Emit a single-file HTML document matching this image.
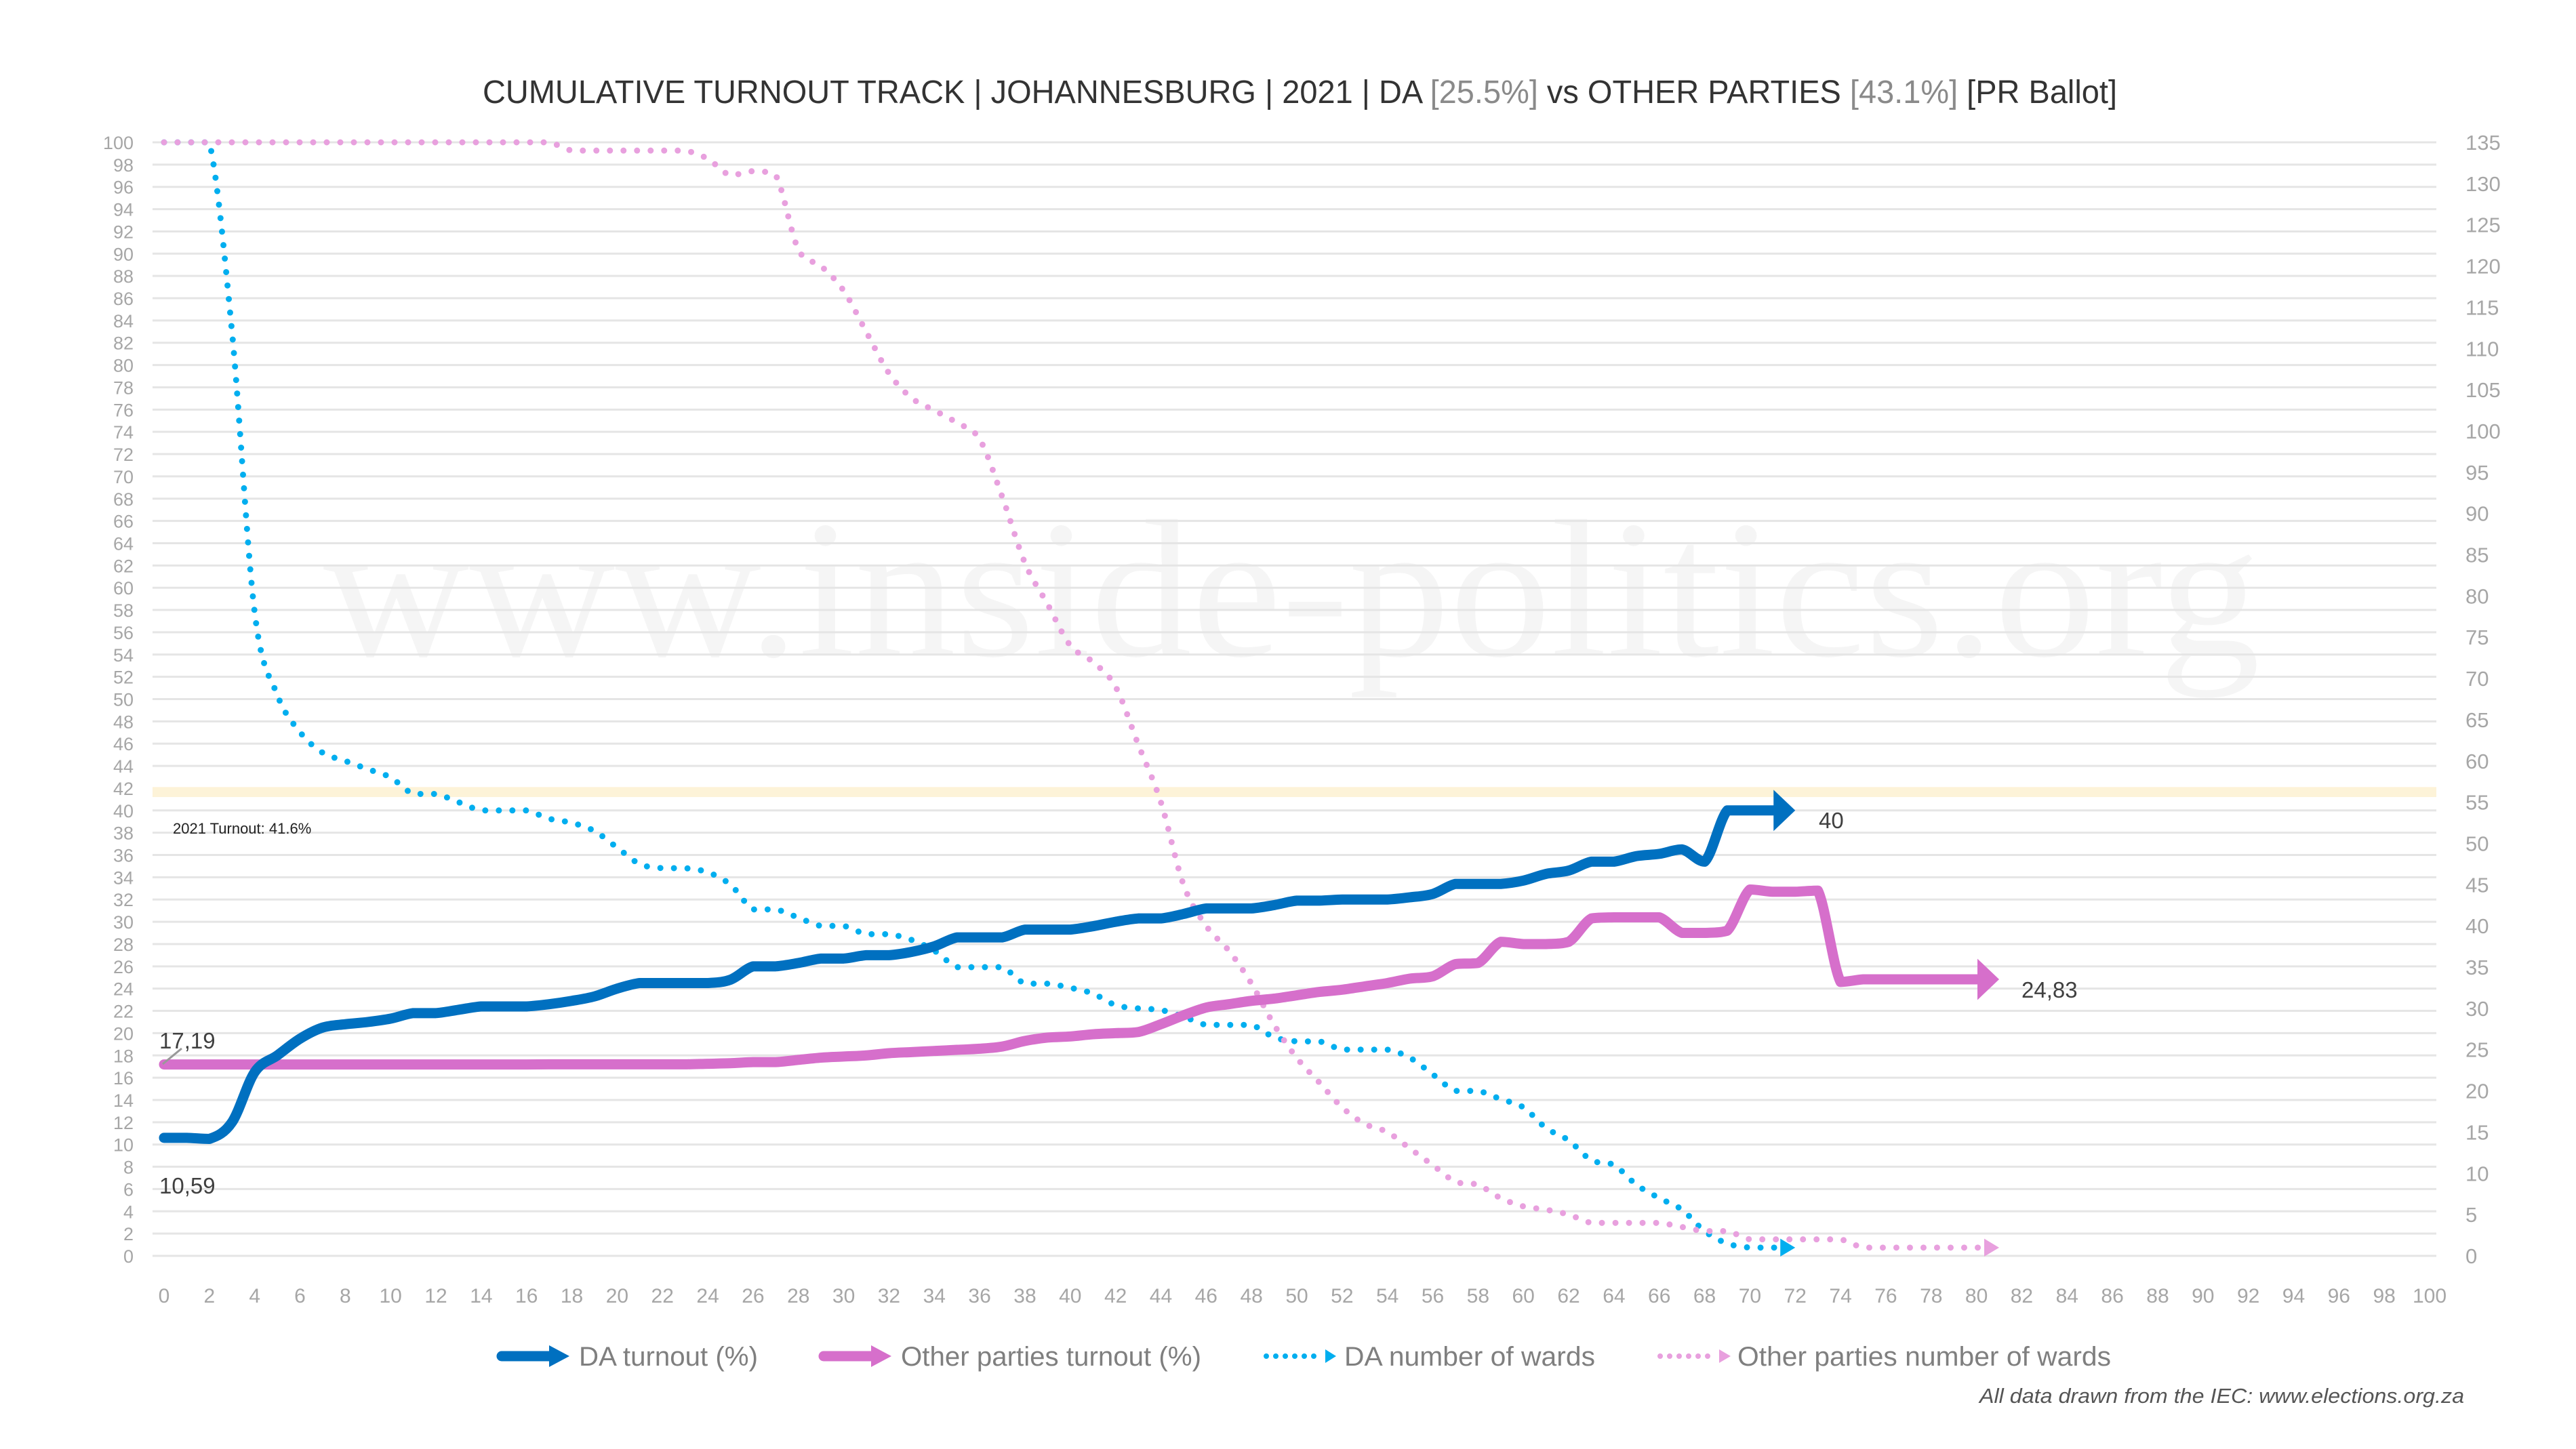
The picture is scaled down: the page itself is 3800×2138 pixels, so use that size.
<!DOCTYPE html>
<html><head><meta charset="utf-8">
<style>
html,body{margin:0;padding:0;background:#fff;}
svg{display:block;font-family:"Liberation Sans",sans-serif;}
</style></head>
<body>
<svg id="chart" width="3800" height="2138" viewBox="0 0 3800 2138" xmlns="http://www.w3.org/2000/svg">
<rect width="3800" height="2138" fill="#fff"/>
<text x="477" y="967" font-family="Liberation Serif,serif" font-size="290" fill="#f5f5f5" textLength="2857" lengthAdjust="spacingAndGlyphs">www.inside-politics.org</text>
<g id="grid"></g>
<rect id="band" fill="#fdf3d8"/>
<text x="255" y="1230" font-size="22" fill="#222">2021 Turnout: 41.6%</text>
<g id="yl"></g>
<g id="yr"></g>
<g id="xl"></g>
<g id="series"></g>
<text x="712" y="152" font-size="48" fill="#333" textLength="2411" lengthAdjust="spacingAndGlyphs">CUMULATIVE TURNOUT TRACK | JOHANNESBURG | 2021 | DA <tspan fill="#8a8a8a">[25.5%]</tspan> vs OTHER PARTIES <tspan fill="#8a8a8a">[43.1%]</tspan> [PR Ballot]</text>
<text x="235" y="1547" font-size="33" fill="#404040">17,19</text>
<line x1="240" y1="1570" x2="268" y2="1547" stroke="#999" stroke-width="3"/>
<text x="235" y="1761" font-size="33" fill="#404040">10,59</text>
<text x="2683" y="1222" font-size="33" fill="#404040">40</text>
<text x="2982" y="1472" font-size="33" fill="#404040">24,83</text>
<g>
 <g>
  <line x1="740" y1="2001" x2="812" y2="2001" stroke="#0070c0" stroke-width="15" stroke-linecap="round"/>
  <polygon points="810,1985 840,2001 810,2017" fill="#0070c0"/>
  <text x="854" y="2015" font-size="40" fill="#7f7f7f" textLength="264" lengthAdjust="spacingAndGlyphs">DA turnout (%)</text>
 </g>
 <g>
  <line x1="1215" y1="2001" x2="1287" y2="2001" stroke="#d66fcb" stroke-width="15" stroke-linecap="round"/>
  <polygon points="1285,1985 1315,2001 1285,2017" fill="#d66fcb"/>
  <text x="1329" y="2015" font-size="40" fill="#7f7f7f" textLength="443" lengthAdjust="spacingAndGlyphs">Other parties turnout (%)</text>
 </g>
 <g>
  <line x1="1868" y1="2001" x2="1952" y2="2001" stroke="#00aeef" stroke-width="8" stroke-linecap="round" stroke-dasharray="0 14"/>
  <polygon points="1955,1991 1971,2001 1955,2011" fill="#00aeef"/>
  <text x="1983" y="2015" font-size="40" fill="#7f7f7f" textLength="370" lengthAdjust="spacingAndGlyphs">DA number of wards</text>
 </g>
 <g>
  <line x1="2449" y1="2001" x2="2533" y2="2001" stroke="#e8a0de" stroke-width="8" stroke-linecap="round" stroke-dasharray="0 14"/>
  <polygon points="2536,1991 2553,2001 2536,2011" fill="#e8a0de"/>
  <text x="2563" y="2015" font-size="40" fill="#7f7f7f" textLength="551" lengthAdjust="spacingAndGlyphs">Other parties number of wards</text>
 </g>
</g>
<text x="3635" y="2070" text-anchor="end" font-size="31" font-style="italic" fill="#555" textLength="715" lengthAdjust="spacingAndGlyphs">All data drawn from the IEC: www.elections.org.za</text>
</svg>
<script>
const daTurnout = [10.6,10.6,10.5,12,16.5,18,19.5,20.5,20.8,21,21.3,21.8,21.8,22.1,22.4,22.4,22.4,22.6,22.9,23.3,24,24.5,24.5,24.5,24.5,24.8,26,26,26.3,26.7,26.7,27,27,27.3,27.8,28.6,28.6,28.6,29.3,29.3,29.3,29.6,30,30.3,30.3,30.7,31.2,31.2,31.2,31.5,31.9,31.9,32,32,32,32.2,32.5,33.4,33.4,33.4,33.7,34.3,34.6,35.4,35.4,35.9,36.1,36.5,35.4,40,40,40,40];
const otherTurnout = [17.19,17.19,17.19,17.19,17.19,17.19,17.19,17.19,17.19,17.19,17.19,17.19,17.19,17.19,17.19,17.19,17.19,17.2,17.2,17.2,17.2,17.2,17.2,17.2,17.25,17.3,17.4,17.4,17.6,17.8,17.9,18,18.2,18.3,18.4,18.5,18.6,18.8,19.3,19.6,19.7,19.9,20,20.1,20.8,21.6,22.3,22.6,22.9,23.1,23.4,23.7,23.9,24.2,24.5,24.9,25.1,26.2,26.3,28.2,28,28,28.2,30.3,30.4,30.4,30.4,29,29,29.2,32.9,32.7,32.7,32.8,24.6,24.83,24.83,24.83,24.83,24.83,24.83,24.83];
const daWards = [135,135,135,112,78,68,63.5,61,60,59,58,56,56,55,54,54,54,53,52.5,51.5,49.5,47.5,47,47,46.5,45,42,42,41,40,40,39,39,38.3,37,35,35,35,33,33,32.5,31.8,30.4,30,29.8,29,28,28,28,26.5,26,26,25,25,25,24,22,20,20,19,18,15.5,14,11.6,11,8.6,7,5.6,3,1.5,1,1,1];
const otherWards = [135,135,135,135,135,135,135,135,135,135,135,135,135,135,135,135,135,135,134,134,134,134,134,134,133,131,131.5,131,122,120,117,112,107,104,102.5,101,99,92,84,79,74,72,69,62,55,45,40,37,33,28,24,21,18,16,15,13,11,9,8.6,7,6,5.6,5,4,4,4,4,3.5,3,3,2,2,2,2,2,1,1,1,1,1,1,1];
const leftTicks = Array.from({length:51},(_,i)=>i*2);
const rightTicks = [0,5,10,15,20,25,30,35,40,45,50,55,60,65,70,75,80,85,90,95,100,105,110,115,120,125,130,135];
const xTicks = Array.from({length:51},(_,i)=>i*2);
const turnoutBand = [41.2, 42.1];

const X0=242,X1=3584,Y0=1853,Y100=210;
const sx=v=>X0+(X1-X0)*v/100;
const sy=v=>Y0+(Y100-Y0)*v/100;
const sr=v=>Y0+(Y100-Y0)*v/135;
const NS='http://www.w3.org/2000/svg';
function mk(tag,parent,attrs){const e=document.createElementNS(NS,tag);for(const k in attrs)e.setAttribute(k,attrs[k]);parent.appendChild(e);return e;}

const grid=document.getElementById('grid');
leftTicks.forEach(t=>{
  const l=mk('line',grid,{x1:225,x2:3594,y1:sy(t),y2:sy(t),stroke:'#e5e5e5','stroke-width':3});
  
  
});
const band=document.getElementById('band');
band.setAttribute('x',225);band.setAttribute('width',3369);
band.setAttribute('y',sy(turnoutBand[1]));band.setAttribute('height',sy(turnoutBand[0])-sy(turnoutBand[1]));

const yl=document.getElementById('yl');
leftTicks.forEach(t=>{
  const e=mk('text',yl,{x:197,y:sy(t)+10,'text-anchor':'end','font-size':27,fill:'#a6a6a6'});
  e.textContent=t;
  
  
});
const yr=document.getElementById('yr');
rightTicks.forEach(t=>{
  const e=mk('text',yr,{x:3637,y:sr(t)+11,'font-size':31,fill:'#a6a6a6'});
  e.textContent=t;
  
  
});
const xl=document.getElementById('xl');
xTicks.forEach(t=>{
  const e=mk('text',xl,{x:sx(t),y:1922,'text-anchor':'middle','font-size':30,fill:'#a6a6a6'});
  e.textContent=t;
  
  
});

function clamp(v,a,b){const lo=Math.min(a,b),hi=Math.max(a,b);return Math.max(lo,Math.min(hi,v));}
function smoothPath(pts){
  let d='M'+pts[0][0]+','+pts[0][1];
  for(let i=0;i<pts.length-1;i++){
    const p0=pts[i-1]||pts[i],p1=pts[i],p2=pts[i+1],p3=pts[i+2]||p2;
    const c1=[p1[0]+(p2[0]-p0[0])/6,clamp(p1[1]+(p2[1]-p0[1])/6,p1[1],p2[1])];
    const c2=[p2[0]-(p3[0]-p1[0])/6,clamp(p2[1]-(p3[1]-p1[1])/6,p1[1],p2[1])];
    d+=' C'+c1.join(',')+' '+c2.join(',')+' '+p2.join(',');
  }
  return d;
}
const series=document.getElementById('series');
function draw(vals,scale,color,width,dotted,name,head){
  const pts=vals.map((v,i)=>[sx(i),scale(v)]);
  const last=pts[pts.length-1];
  const trimmed=pts.slice(0,-1).concat([[last[0]-head*0.9,last[1]]]);
  const p=mk('path',series,{d:smoothPath(trimmed),fill:'none',stroke:color,'stroke-width':width,'stroke-linecap':'round','stroke-linejoin':'round'});
  if(dotted)p.setAttribute('stroke-dasharray','0 20');
  
  
  const h=head, hh=dotted?h*0.6:h*0.95;
  const a=mk('polygon',series,{points:(last[0]-h)+','+(last[1]-hh)+' '+last[0]+','+last[1]+' '+(last[0]-h)+','+(last[1]+hh),fill:color});
  
  
}
draw(daWards,sr,'#00aeef',9,true,'da-wards-line',22);
draw(otherWards,sr,'#e8a0de',9,true,'other-wards-line',22);
draw(otherTurnout,sy,'#d66fcb',15,false,'other-turnout-line',32);
draw(daTurnout,sy,'#0070c0',15,false,'da-turnout-line',32);
</script>
</body></html>
